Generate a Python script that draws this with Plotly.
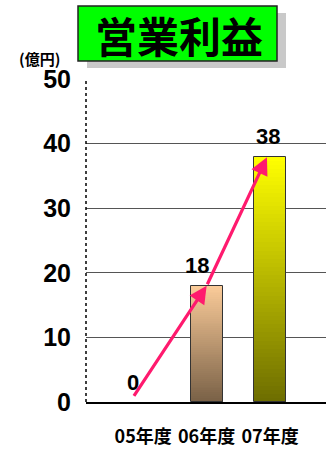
import plotly.graph_objects as go

categories = ["05年度", "06年度", "07年度"]
values = [0, 18, 38]
y_ticks = [0, 10, 20, 30, 40, 50]
title_text = "営業利益"
unit_text = "(億円)"

# gradient colour stops per bar (bottom, top)
grad_bottom = [(120, 96, 70), (120, 96, 70), (108, 108, 0)]
grad_top = [(250, 203, 153), (250, 203, 153), (255, 255, 0)]

N = 60
xs, ys, cols = [], [], []
for i, v in enumerate(values):
    if v <= 0:
        continue
    for k in range(N, 0, -1):
        t = k / N
        b, tp = grad_bottom[i], grad_top[i]
        c = tuple(int(b[j] + (tp[j] - b[j]) * t) for j in range(3))
        xs.append(i)
        ys.append(v * t)
        cols.append("rgb(%d,%d,%d)" % c)

fig = go.Figure()
fig.add_trace(go.Bar(x=xs, y=ys, width=0.5, marker=dict(color=cols, line=dict(width=0)),
                     hoverinfo="skip", showlegend=False))
fig.add_trace(go.Bar(x=list(range(len(categories))), y=values, width=0.5,
                     marker=dict(color="rgba(0,0,0,0)",
                                 line=dict(color="#333333", width=[1 if v > 0 else 0 for v in values])),
                     showlegend=False))

label_font = dict(family="Liberation Sans, Arial, sans-serif", size=22, color="black", weight="bold")
for i, v in enumerate(values):
    fig.add_annotation(x=i, y=v, text=str(v), showarrow=False, font=label_font,
                       yshift=20, xshift=-10 if i < 2 else -2, xref="x", yref="y")

arrow_color = "#FF1A6E"
# arrows between consecutive values
starts = [(-0.16, 0.7), (1.0, 18.0)]
ends = [(1.0, 18.0), (1.95, 37.9)]
for (sx, sy), (ex, ey) in zip(starts, ends):
    fig.add_annotation(x=ex, y=ey, ax=sx, ay=sy, xref="x", yref="y", axref="x", ayref="y",
                       text="", showarrow=True, arrowhead=2, arrowsize=1.1, arrowwidth=3.2,
                       arrowcolor=arrow_color, standoff=0, startstandoff=0)

# dotted left axis line
fig.add_shape(type="line", xref="x domain", yref="y domain", x0=0, x1=0, y0=0, y1=1,
              line=dict(color="black", width=1.5, dash="dot"))

# title box with shadow
W, PL, PT, PH = 240, 86, 79, 323
def px(x):
    return (x - PL) / W
def py(y):
    return (PT + PH - y) / PH
fig.add_shape(type="rect", xref="paper", yref="paper", x0=px(87), x1=px(286), y0=py(68), y1=py(13),
              fillcolor="#C9C9C9", line=dict(width=0), layer="above")
fig.add_shape(type="rect", xref="paper", yref="paper", x0=px(78), x1=px(277), y0=py(61), y1=py(6),
              fillcolor="#00FF00", line=dict(color="#222222", width=1.5), layer="above")
fig.add_annotation(xref="paper", yref="paper", x=px(179), y=py(35), text=title_text, showarrow=False,
                   xanchor="center", yanchor="middle",
                   font=dict(family="Noto Sans CJK JP", size=42, color="black", weight="bold"))
fig.add_annotation(xref="paper", yref="paper", x=px(39), y=py(59), text=unit_text, showarrow=False,
                   xanchor="center", yanchor="middle",
                   font=dict(family="Noto Sans CJK JP", size=15, color="black", weight="bold"))

fig.update_layout(
    width=326, height=450,
    margin=dict(l=86, r=0, t=79, b=48, autoexpand=False),
    plot_bgcolor="white", paper_bgcolor="white",
    barmode="overlay", bargap=0,
    xaxis=dict(range=[-0.9, 2.88], tickvals=list(range(len(categories))), ticktext=categories,
               showgrid=False, zeroline=False, showline=True, linecolor="black", linewidth=1.5,
               ticks="", ticklabelstandoff=18, automargin=False,
               tickfont=dict(family="Noto Sans CJK JP", size=18, color="black", weight="bold")),
    yaxis=dict(range=[0, 50], tickvals=y_ticks, showgrid=True, gridcolor="#555555", gridwidth=1.2,
               zeroline=False, showline=False, ticks="", ticklabelstandoff=14, automargin=False,
               tickfont=dict(family="Liberation Sans Narrow, Liberation Sans, sans-serif", size=25,
                             color="black", weight="bold")),
)

fig.write_html("out.html")
